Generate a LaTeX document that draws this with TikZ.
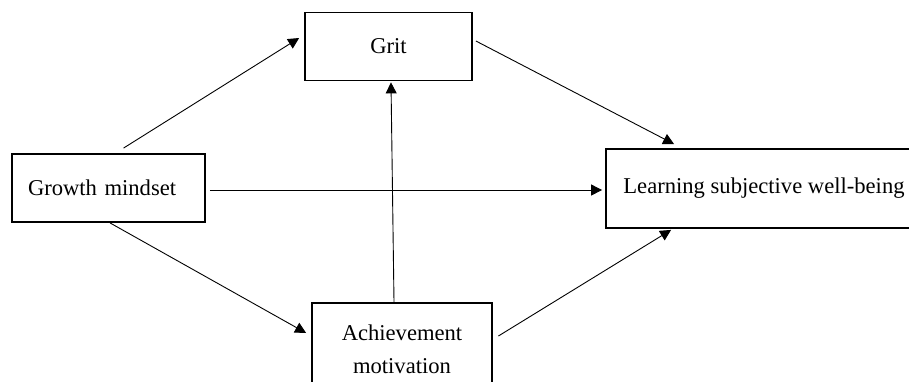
\documentclass[tikz,border=0pt]{standalone}
\usepackage{fontspec}
\setmainfont{Liberation Serif}
\usepackage{tikz}
\usetikzlibrary{arrows.meta}

\begin{document}
\begin{tikzpicture}[x=0.5pt,y=-0.5pt,
        box/.style={draw,line width=0.9pt,rectangle,inner sep=0pt,align=center,
                font=\fontsize{11.3}{16.5}\selectfont},
        path/.style={line width=0.45pt,-{Triangle[length=5.5pt,width=5.5pt]}}] % mediation model
        \clip (0,0) rectangle (909,381);
        \node[box,minimum width=83.5pt,minimum height=34pt] (grit) at (388.5,46.5) {Grit};
        \node[box,text width=80.5pt,inner xsep=8pt,minimum height=34pt,align=left] (growth) at (108.5,188) {Growth mindset};
        \node[box,minimum width=158pt,minimum height=39.5pt] (learning) at (764,188.5) {Learning subjective well-being};
        \node[box,minimum width=90pt,minimum height=46pt] (achieve) at (402,349) {Achievement\\motivation};
        \draw[path] ([xshift=7.5pt,yshift=2.5pt]growth.north) -- ([xshift=-2.5pt,yshift=4.25pt]grit.west);
        \draw[path] ([xshift=1.5pt,yshift=2.75pt]grit.east) -- ([xshift=34.5pt,yshift=2pt]learning.north west);
        \draw[path] ([xshift=-4pt]achieve.north) -- ([xshift=1.25pt,yshift=-0.5pt]grit.south);
        \draw[path] ([xshift=2pt,yshift=-1pt]growth.east) -- ([xshift=-1.5pt,yshift=-0.75pt]learning.west);
        \draw[path] ([xshift=0.75pt]growth.south) -- ([xshift=-2.5pt,yshift=8pt]achieve.west);
        \draw[path] ([xshift=2.75pt,yshift=6.5pt]achieve.east) -- ([xshift=33pt,yshift=-0.5pt]learning.south west);
\end{tikzpicture}
\end{document}
